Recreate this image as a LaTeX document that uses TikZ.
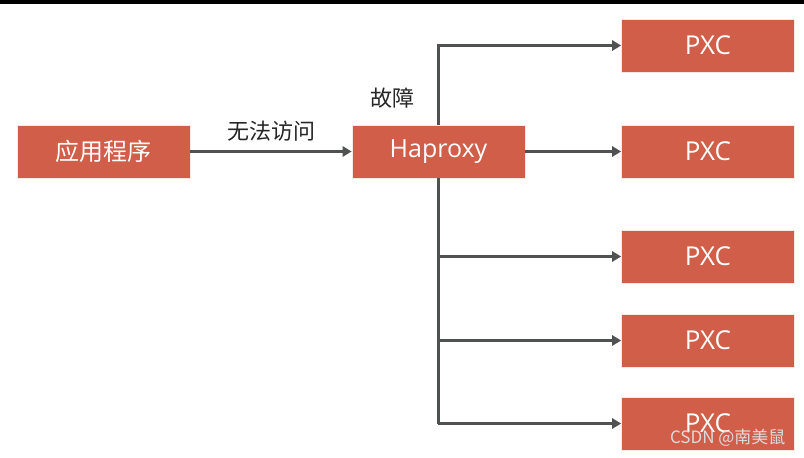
\documentclass[tikz,border=0pt]{standalone}
\usepackage{fontspec}
\setmainfont{Open Sans}
\newfontfamily\cjk{Noto Sans CJK SC}
\usetikzlibrary{arrows.meta}
\definecolor{boxred}{RGB}{209,94,72}
\definecolor{lngray}{RGB}{80,82,82}
\begin{document}
\begin{tikzpicture}[x=1pt,y=-1pt,
  rbox/.style={fill=boxred,draw=white!85!boxred,line width=0.6pt,minimum width=173pt,minimum height=53pt,text=white,inner sep=0pt},
  conn/.style={draw=lngray,line width=3pt,-{Triangle[length=9pt,width=10pt]}},
  plain/.style={draw=lngray,line width=3pt}]
\fill[white] (0,0) rectangle (804,458);
\fill[black] (0,0) rectangle (804,4);
\node[rbox,font=\cjk\fontsize{24}{24}\selectfont] (app) at (103.5,151.5) {应用程序};
\node[rbox,font=\fontsize{25}{25}\selectfont] (ha) at (438.5,151.5) {Haproxy};
\foreach \n/\y in {1/45.5,2/151.5,3/256.5,4/340.5,5/423.5}
  \node[rbox,font=\fontsize{26}{26}\selectfont] (p\n) at (708,\y) {PXC};
\coordinate (top) at (438,45.5);
\coordinate (bot) at (438,423.5);
\draw[conn] (app) -- (ha) node[midway,above=5pt,font=\cjk\fontsize{22}{22}\selectfont,text=black!85] (l1) {无法访问};
\node[font=\cjk\fontsize{22}{22}\selectfont,text=black!85] (l2) at (392,98) {故障};
\draw[conn] (ha.north -| top) -- (top) -- (p1.west);
\draw[conn] (ha) -- (p2);
\draw[plain] (ha.south -| bot) -- (bot);
\draw[conn] (438,256.5) -- (p3.west);
\draw[conn] (438,340.5) -- (p4.west);
\draw[conn] (bot) -- (p5.west);
\node[font=\cjk\fontsize{17}{17}\selectfont,text=white!72!gray,anchor=east] (wm) at (789,438) {CSDN @南美鼠};
\end{tikzpicture}
\end{document}
